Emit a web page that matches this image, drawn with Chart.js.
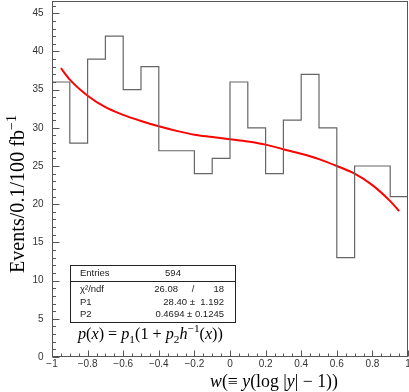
<!DOCTYPE html>
<html>
<head>
<meta charset="utf-8">
<script src="https://cdn.jsdelivr.net/npm/chart.js@4/dist/chart.umd.min.js"></script>
<style>
  html, body { margin: 0; padding: 0; background: #fff; overflow: hidden; }
</style>
</head>
<body>
<canvas id="graph" width="409" height="392"></canvas>
<script>
// histogram: 20 bins of width 0.1
const binEdges = [-1, -0.9, -0.8, -0.7, -0.6, -0.5, -0.4, -0.3, -0.2, -0.1, 0,
                  0.1, 0.2, 0.3, 0.4, 0.5, 0.6, 0.7, 0.8, 0.9, 1];
const binCounts = [36, 28, 39, 42, 35, 38, 27, 27, 24, 26,
                   36, 30, 24, 31, 37, 30, 13, 25, 25, 21];

// fitted curve
const fitX = [-0.95, -0.9, -0.8, -0.7, -0.6, -0.5, -0.4, -0.3, -0.2, -0.1, 0,
              0.1, 0.2, 0.3, 0.4, 0.5, 0.6, 0.7, 0.8, 0.9, 0.95];
const fitY = [37.8, 36.3, 34.2, 32.7, 31.7, 30.9, 30.2, 29.6, 29.1, 28.8, 28.5,
              28.2, 27.8, 27.2, 26.6, 25.9, 25.0, 24.0, 22.5, 20.4, 19.1];

const xTickValues = [-1, -0.8, -0.6, -0.4, -0.2, 0, 0.2, 0.4, 0.6, 0.8, 1];
const xTickLabels = ["\u22121", "\u22120.8", "\u22120.6", "\u22120.4", "\u22120.2", "0",
                     "0.2", "0.4", "0.6", "0.8", "1"];
const yTickValues = [0, 5, 10, 15, 20, 25, 30, 35, 40, 45];

// stats box
const statsEntries = "594";
const statsChi2 = ["26.08", "18"];
const statsP1 = ["28.40", "1.192"];
const statsP2 = ["0.4694", "0.1245"];

const SANS = '"Liberation Sans", Arial, sans-serif';
const SERIF = '"Liberation Serif", "Times New Roman", serif';

// draw text made of pieces (italic / sub / sup), returns width
function richWidth(ctx, segs, size) {
  let w = 0;
  for (const s of segs) {
    const sz = (s.sub || s.sup) ? size * 0.7 : size;
    ctx.font = (s.it ? "italic " : "") + sz + "px " + SERIF;
    w += ctx.measureText(s.t).width;
  }
  return w;
}
function drawRich(ctx, segs, x, y, size) {
  ctx.textBaseline = "alphabetic";
  ctx.textAlign = "left";
  for (const s of segs) {
    const sz = (s.sub || s.sup) ? size * 0.7 : size;
    ctx.font = (s.it ? "italic " : "") + sz + "px " + SERIF;
    let dy = 0;
    if (s.sub) dy = size * 0.22;
    if (s.sup) dy = -size * 0.42;
    ctx.fillText(s.t, x, y + dy);
    x += ctx.measureText(s.t).width;
  }
}
function fitSize(ctx, segs, target) {
  return 16 * target / richWidth(ctx, segs, 16);
}

const yTitle = [{t: "Events/0.1/100 fb"}, {t: "\u22121", sup: true}];
const xTitle = [{t: "w", it: true}, {t: "(\u2261 "}, {t: "y", it: true},
                {t: "(log |"}, {t: "y", it: true}, {t: "| \u2212 1))"}];
const formula = [{t: "p", it: true}, {t: "("}, {t: "x", it: true}, {t: ") = "},
                 {t: "p", it: true}, {t: "1", sub: true}, {t: "(1 + "},
                 {t: "p", it: true}, {t: "2", sub: true}, {t: "h", it: true},
                 {t: "\u22121", sup: true}, {t: "("}, {t: "x", it: true}, {t: "))"}];

const rootStyle = {
  id: "rootStyle",
  afterDraw(chart) {
    const ctx = chart.ctx;
    const xs = chart.scales.x, ys = chart.scales.y;
    const a = chart.chartArea;
    const L = Math.round(a.left) + 0.5, R = Math.round(a.right) - 0.5;
    const T = Math.round(a.top) + 0.5, B = Math.round(a.bottom) - 0.5;
    ctx.save();

    // frame
    ctx.strokeStyle = "#555";
    ctx.lineWidth = 1;
    ctx.strokeRect(L, T, R - L, B - T);

    // x ticks (inward)
    ctx.beginPath();
    for (let k = 0; k <= 40; k++) {
      const v = -1 + k * 0.05;
      const px = Math.round(xs.getPixelForValue(v)) + 0.5;
      const len = (k % 4 === 0) ? 6 : 3;
      ctx.moveTo(px, B);
      ctx.lineTo(px, B - len);
    }
    // y ticks (inward)
    for (let v = 0; v <= 46; v++) {
      const py = Math.round(ys.getPixelForValue(v)) + 0.5;
      const len = (v % 5 === 0) ? 7 : 3.5;
      ctx.moveTo(L, py);
      ctx.lineTo(L + len, py);
    }
    ctx.stroke();

    // tick labels
    ctx.fillStyle = "#333";
    ctx.font = "10px " + SANS;
    ctx.textAlign = "center";
    ctx.textBaseline = "middle";
    xTickValues.forEach((v, i) => {
      ctx.fillText(xTickLabels[i], xs.getPixelForValue(v), B + 8);
    });
    ctx.textAlign = "right";
    yTickValues.forEach(v => {
      ctx.fillText(String(v), L - 9, ys.getPixelForValue(v));
    });

    // axis titles
    ctx.fillStyle = "#000";
    let sz = fitSize(ctx, xTitle, 128);
    let w = richWidth(ctx, xTitle, sz);
    drawRich(ctx, xTitle, 274 - w / 2, 387, sz);

    ctx.save();
    ctx.translate(24, 194);
    ctx.rotate(-Math.PI / 2);
    sz = fitSize(ctx, yTitle, 158);
    w = richWidth(ctx, yTitle, sz);
    drawRich(ctx, yTitle, -w / 2, 0, sz);
    ctx.restore();

    // stats box
    ctx.fillStyle = "#fff";
    ctx.fillRect(70.5, 265.5, 165, 57);
    ctx.strokeStyle = "#222";
    ctx.strokeRect(70.5, 265.5, 165, 57);
    ctx.beginPath();
    ctx.moveTo(70.5, 281.5);
    ctx.lineTo(235.5, 281.5);
    ctx.stroke();

    ctx.fillStyle = "#222";
    ctx.font = "9.5px " + SANS;
    ctx.textBaseline = "middle";
    ctx.textAlign = "left";
    ctx.fillText("Entries", 80, 273.5);
    ctx.fillText("\u03c7\u00b2/ndf", 80, 289);
    ctx.fillText("P1", 80, 302);
    ctx.fillText("P2", 80, 314.5);
    ctx.textAlign = "center";
    ctx.fillText(statsEntries, 173, 273.5);
    ctx.fillText("/", 193, 289);
    ctx.textAlign = "right";
    ctx.fillText(statsChi2[0], 178, 289);
    ctx.fillText(statsChi2[1], 224, 289);
    ctx.fillText(statsP1[0] + " \u00b1  " + statsP1[1], 224, 302);
    ctx.fillText(statsP2[0] + " \u00b1 " + statsP2[1], 224, 314.5);

    // fit formula
    ctx.fillStyle = "#000";
    sz = fitSize(ctx, formula, 145);
    drawRich(ctx, formula, 78, 339, sz);

    ctx.restore();
  }
};

const histData = binEdges.map((e, i) => ({ x: e, y: binCounts[Math.min(i, binCounts.length - 1)] }));
const fitData = fitX.map((x, i) => ({ x: x, y: fitY[i] }));

new Chart(document.getElementById("graph"), {
  type: "line",
  data: {
    datasets: [
      {
        label: "hist",
        data: histData,
        stepped: "before",
        borderColor: "#666",
        borderWidth: 1.2,
        pointRadius: 0,
        fill: false
      },
      {
        label: "fit",
        data: fitData,
        borderColor: "#ff0000",
        borderWidth: 2,
        cubicInterpolationMode: "monotone",
        pointRadius: 0,
        fill: false
      }
    ]
  },
  options: {
    responsive: false,
    animation: false,
    devicePixelRatio: 1,
    layout: { padding: { top: 1, right: 1, left: 0, bottom: 0 } },
    plugins: { legend: { display: false }, tooltip: { enabled: false } },
    scales: {
      x: {
        type: "linear", min: -1, max: 1,
        ticks: { display: false },
        grid: { display: false },
        border: { display: false },
        afterFit: s => { s.height = 35; }
      },
      y: {
        min: 0, max: 46.6,
        ticks: { display: false },
        grid: { display: false },
        border: { display: false },
        afterFit: s => { s.width = 52; }
      }
    }
  },
  plugins: [rootStyle]
});
</script>
</body>
</html>
